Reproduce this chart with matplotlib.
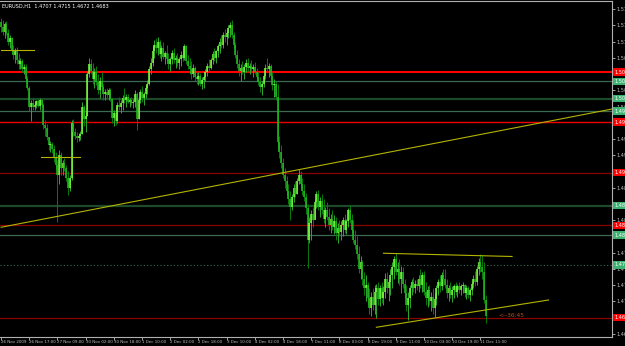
import numpy as np
import matplotlib
matplotlib.use("Agg")
import matplotlib.pyplot as plt
from matplotlib.transforms import blended_transform_factory

# EURUSD H1, prices stored in pips above BASE
BASE = 1.4600
first_open = 535

highs = [
    541, 538, 535, 536, 525, 515, 512, 500, 495, 496,
    488, 480, 478, 470, 470, 452, 436, 415, 418, 412,
    415, 417, 418, 416, 410, 384, 378, 358, 352, 350,
    346, 335, 323, 338, 335, 322, 325, 315, 305, 300,
    384, 385, 372, 365, 364, 368, 412, 408, 398, 460,
    480, 478, 472, 465, 468, 455, 450, 458, 440, 432,
    434, 434, 433, 418, 400, 405, 412, 420, 415, 422,
    433, 425, 424, 418, 420, 416, 430, 428, 420, 432,
    436, 428, 438, 446, 468, 480, 498, 507, 510, 512,
    508, 500, 505, 490, 500, 488, 482, 492, 495, 485,
    488, 482, 490, 495, 502, 500, 485, 480, 475, 470,
    468, 460, 458, 456, 450, 452, 462, 472, 478, 480,
    490, 495, 492, 502, 510, 515, 520, 525, 522, 530,
    535, 538, 520, 505, 492, 478, 470, 475, 470, 478,
    480, 472, 476, 470, 474, 465, 458, 450, 445, 455,
    470, 480, 472, 470, 458, 448, 445, 440, 360, 345,
    325, 310, 298, 285, 275, 270, 285, 290, 295, 308,
    305, 295, 285, 272, 255, 235, 245, 250, 262, 275,
    276, 265, 270, 262, 250, 258, 248, 240, 245, 238,
    235, 225, 230, 228, 235, 240, 232, 248, 253, 240,
    230, 215, 205, 190, 175, 168, 150, 145, 135, 125,
    120, 125, 130, 132, 135, 130, 135, 128, 148, 150,
    140, 155, 165, 175, 180, 165, 170, 160, 158, 140,
    130, 120, 130, 140, 142, 138, 140, 145, 155, 150,
    152, 135, 128, 130, 120, 125, 118, 130, 140, 145,
    150, 155, 155, 140, 130, 135, 128, 132, 135, 132,
    135, 132, 134, 132, 130, 128, 126, 135, 145, 152,
    160, 172, 178, 176, 165, 115,
]
lows = [
    520, 515, 510, 515, 500, 495, 488, 478, 472, 470,
    463, 462, 458, 455, 442, 430, 398, 382, 400, 400,
    403, 404, 400, 405, 370, 360, 353, 338, 335, 333,
    320, 308, 227, 285, 300, 300, 305, 290, 268, 275,
    292, 360, 355, 350, 352, 354, 362, 375, 365, 390,
    450, 455, 440, 433, 438, 425, 418, 430, 415, 415,
    418, 415, 413, 380, 375, 376, 380, 400, 395, 400,
    410, 405, 410, 405, 408, 403, 405, 369, 385, 410,
    412, 408, 418, 425, 438, 455, 468, 480, 488, 485,
    480, 475, 478, 470, 472, 462, 460, 470, 472, 465,
    468, 462, 468, 475, 476, 470, 462, 455, 448, 450,
    445, 440, 438, 436, 432, 433, 444, 452, 460, 462,
    470, 475, 472, 482, 488, 495, 495, 505, 500, 510,
    512, 510, 495, 480, 465, 452, 445, 455, 448, 458,
    460, 455, 458, 450, 455, 445, 438, 428, 423, 435,
    448, 458, 450, 448, 430, 420, 415, 340, 325, 310,
    295, 280, 268, 255, 230, 245, 258, 265, 270, 285,
    280, 268, 260, 240, 156, 195, 200, 220, 232, 248,
    245, 235, 240, 225, 220, 230, 215, 210, 215, 208,
    200, 195, 205, 200, 205, 210, 208, 220, 225, 210,
    195, 185, 170, 148, 140, 130, 115, 105, 100, 85,
    82, 92, 85, 80, 100, 98, 102, 100, 110, 118,
    105, 115, 125, 140, 145, 133, 130, 118, 125, 110,
    90, 76, 95, 115, 120, 118, 122, 120, 125, 120,
    115, 100, 96, 100, 90, 85, 81, 100, 115, 120,
    122, 128, 125, 110, 105, 110, 104, 110, 115, 112,
    118, 115, 118, 112, 108, 110, 106, 115, 125, 128,
    130, 145, 150, 140, 102, 72,
]
closes = [
    528, 520, 532, 518, 505, 510, 492, 485, 490, 476,
    470, 475, 462, 466, 448, 434, 405, 410, 405, 408,
    413, 406, 415, 407, 376, 372, 358, 345, 348, 340,
    326, 315, 300, 330, 310, 318, 310, 295, 280, 295,
    380, 365, 360, 356, 360, 362, 405, 385, 390, 455,
    470, 460, 448, 458, 442, 430, 445, 435, 425, 428,
    422, 430, 416, 388, 395, 382, 408, 405, 410, 418,
    415, 420, 412, 415, 410, 412, 425, 385, 415, 428,
    418, 425, 434, 440, 462, 472, 490, 500, 495, 505,
    486, 495, 482, 488, 478, 470, 478, 488, 476, 480,
    472, 478, 485, 480, 498, 475, 468, 462, 455, 465,
    450, 448, 452, 440, 446, 450, 458, 468, 465, 476,
    486, 480, 490, 498, 505, 500, 515, 512, 518, 526,
    530, 515, 500, 485, 470, 460, 465, 458, 466, 472,
    464, 468, 462, 466, 458, 450, 442, 435, 440, 452,
    465, 462, 468, 452, 438, 440, 420, 350, 335, 318,
    300, 290, 275, 262, 250, 265, 280, 270, 290, 300,
    285, 275, 265, 248, 200, 225, 240, 230, 258, 270,
    250, 260, 245, 232, 245, 235, 222, 232, 220, 228,
    210, 218, 212, 222, 230, 215, 228, 245, 230, 215,
    200, 192, 178, 155, 165, 140, 125, 130, 110, 95,
    112, 100, 120, 125, 108, 125, 110, 120, 140, 125,
    135, 145, 158, 170, 150, 155, 140, 150, 132, 118,
    100, 110, 125, 135, 125, 132, 128, 140, 130, 145,
    120, 110, 122, 105, 112, 95, 108, 126, 135, 128,
    145, 140, 130, 118, 125, 115, 122, 128, 120, 128,
    122, 128, 130, 118, 125, 115, 122, 132, 140, 135,
    155, 165, 158, 150, 107, 83,
]

time_labels = [
    "26 Nov 2009", "26 Nov 17:00", "27 Nov 09:00", "30 Nov 02:00",
    "30 Nov 18:00", "1 Dec 10:00", "2 Dec 02:00", "2 Dec 18:00",
    "3 Dec 10:00", "4 Dec 02:00", "4 Dec 18:00", "7 Dec 11:00",
    "8 Dec 03:00", "8 Dec 19:00", "9 Dec 11:00", "10 Dec 03:00",
    "10 Dec 19:00", "11 Dec 11:00",
]
bars_per_label = 16

# horizontal levels drawn on the chart
levels = [1.5058, 1.5044, 1.5017, 1.4998, 1.4981, 1.4903,
          1.4852, 1.4822, 1.4807, 1.4761, 1.4680]
level_kind = ["r2", "g", "dg", "g", "r", "dr", "dg", "dr", "g", "dot", "dr"]

# trend lines as (bar, price) pairs
trend_lines = [
    ((0, 1.4819), (346.5, 1.5001)),
    ((0, 1.5092), (18.6, 1.5092)),
    ((22.6, 1.4927), (44.6, 1.4927)),
    ((217, 1.4779), (290, 1.4774)),
    ((213, 1.4665), (310.7, 1.4707)),
]

title = "EURUSD,H1  1.4707 1.4715 1.4672 1.4683"
timer_text = "<--36:45"

# ---------------------------------------------------------------
h = BASE + np.array(highs) / 10000
l = BASE + np.array(lows) / 10000
c = BASE + np.array(closes) / 10000
o = np.concatenate([[BASE + first_open / 10000], c[:-1]])
idx = np.arange(len(c))
up = c >= o

fig = plt.figure(figsize=(6.25, 3.46), dpi=100, facecolor="black")
ax = fig.add_axes([0, 9 / 346, 612 / 625, 336 / 346])
ax.set_facecolor("black")

style = {
    "r2": dict(color="#ff0000", lw=1.5, ls="-"),
    "r": dict(color="#ee0000", lw=1.0, ls="-"),
    "g": dict(color="#3d6b52", lw=0.9, ls="-"),
    "dg": dict(color="#1d4a2a", lw=1.6, ls="-"),
    "dr": dict(color="#8b0000", lw=0.9, ls="-"),
    "dot": dict(color="#2e6b58", lw=0.8, ls=(0, (1, 2))),
}
for lev, kind in zip(levels, level_kind):
    ax.axhline(lev, zorder=1, **style[kind])

# candles: wick + body
wick_col = np.where(up, "#2fa82f", "#0a7a0a")
body_col = np.where(up, "#80ff40", "#22c022")
ax.vlines(idx, l, h, colors=wick_col, lw=0.7, zorder=3)
ax.vlines(idx, np.minimum(o, c), np.maximum(o, c), colors=body_col, lw=1.1, zorder=4)

for (x0, y0), (x1, y1) in trend_lines:
    ax.plot([x0, x1], [y0, y1], color="#b4b400", lw=0.8, zorder=5)

ax.set_xlim(-0.6, 346.7)
ax.set_ylim(1.4650, 1.51675)

# right price scale
ticks = np.round(np.arange(1.4655, 1.5160, 0.0025), 4)
ax.yaxis.tick_right()
ax.set_yticks(ticks)
ax.set_yticklabels([f"{t:.4f}" for t in ticks])
ax.tick_params(axis="y", colors="#c0c0c0", labelsize=3.6, length=2, width=0.6, pad=1)

xt = np.arange(len(time_labels)) * bars_per_label
ax.set_xticks(xt)
ax.set_xticklabels(time_labels, ha="left")
ax.tick_params(axis="x", colors="#c0c0c0", labelsize=2.9, length=2, width=0.6, pad=0.5)

ax.spines["left"].set_visible(False)
for side in ["right", "bottom", "top"]:
    ax.spines[side].set_color("#b0b0b0")
    ax.spines[side].set_linewidth(0.8)

# coloured level labels on the price scale
tr = blended_transform_factory(ax.transAxes, ax.transData)
for lev, kind in zip(levels, level_kind):
    box = "#ff0000" if kind.startswith("r") or kind == "dr" else "#3cb371"
    ax.text(1.004, lev, f"{lev:.4f}", transform=tr, fontsize=3.6, color="white",
            va="center", ha="left", clip_on=False, zorder=10,
            bbox=dict(facecolor=box, edgecolor="none", pad=0.8))

ax.text(0.004, 0.993, title, transform=ax.transAxes, fontsize=3.6,
        color="white", va="top", ha="left")
ax.text(282, c[-1], timer_text, fontsize=4.2, color="#b8501e",
        va="center", ha="left", zorder=6)

fig.savefig("out.png", dpi=100, facecolor="black")
